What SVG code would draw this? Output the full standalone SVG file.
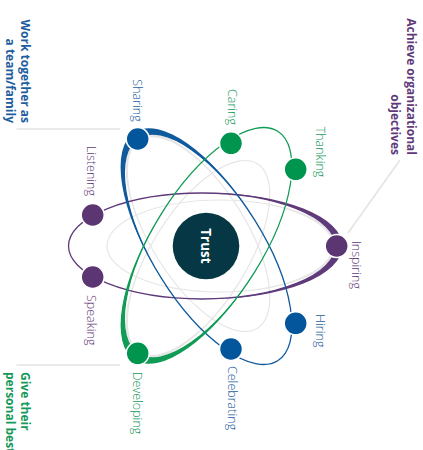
<svg xmlns="http://www.w3.org/2000/svg" width="423" height="450" viewBox="0 0 423 450">
  <defs>
    <style>
      .lbl{font-family:"Open Sans","Liberation Sans",sans-serif;font-size:12.5px;font-weight:300}
      .cat{font-family:"Open Sans","Liberation Sans",sans-serif;font-size:12px;font-weight:700}
      .blue{fill:#1d5d9e}
      .green{fill:#15995a}
      .purple{fill:#5f3a7a}
      .shadow{fill:none;stroke:#e6e6e6;stroke-width:1.2}
      .band{fill:#e6e6e6;fill-rule:evenodd}
      .orbit{fill:none;stroke-width:1.3}
      .node{stroke:#fff;stroke-width:1.5}
      .conn{fill:none;stroke:#e3e3e3;stroke-width:1.5}
    </style>
    <!-- tip-side clips in each orbit's local frame (tip along +x) -->
    <clipPath id="tipP"><rect x="3.5" y="-80" width="160" height="160"/></clipPath>
    <clipPath id="tipPg"><rect x="19.75" y="-80" width="160" height="160"/></clipPath>
  </defs>

  <!-- connectors from nodes to category captions -->
  <g id="connectors">
    <path class="conn" d="M16.5,129 H120"/>
    <path class="conn" d="M16.5,365 H120"/>
    <path class="conn" d="M400,160 L348,233"/>
  </g>

  <!-- orbit shadows -->
  <g id="shadows">
    <g transform="translate(202,246)">
      <ellipse class="shadow" cx="18" rx="113" ry="46"/>
      <path class="band" clip-path="url(#tipPg)" d="M134.5,0 A113,46 0 1 1 -91.5,0 A113,46 0 1 1 134.5,0 Z M131,0 A113,46 0 1 1 -95,0 A113,46 0 1 1 131,0 Z"/>
    </g>
    <g transform="translate(208.1,249.3) rotate(238)">
      <ellipse class="shadow" cx="18" rx="111" ry="47.5"/>
      <path class="band" clip-path="url(#tipPg)" d="M132.5,0 A111,47.5 0 1 1 -89.5,0 A111,47.5 0 1 1 132.5,0 Z M129,0 A111,47.5 0 1 1 -93,0 A111,47.5 0 1 1 129,0 Z"/>
    </g>
    <g transform="translate(208.1,242.7) rotate(122)">
      <ellipse class="shadow" cx="18" rx="111" ry="47.5"/>
      <path class="band" clip-path="url(#tipPg)" d="M132.5,0 A111,47.5 0 1 1 -89.5,0 A111,47.5 0 1 1 132.5,0 Z M129,0 A111,47.5 0 1 1 -93,0 A111,47.5 0 1 1 129,0 Z"/>
    </g>
  </g>

  <!-- coloured orbits -->
  <g id="orbit-purple" transform="translate(202,246)">
    <ellipse class="orbit" rx="133.5" ry="53" stroke="#5f3a7a"/>
    <path fill="#5f3a7a" fill-rule="evenodd" clip-path="url(#tipP)" d="M140.5,0 A133.5,53 0 1 1 -126.5,0 A133.5,53 0 1 1 140.5,0 Z M133.5,0 A133.5,53 0 1 1 -133.5,0 A133.5,53 0 1 1 133.5,0 Z"/>
  </g>
  <g id="orbit-blue" transform="translate(208.1,249.3) rotate(238)">
    <ellipse class="orbit" rx="131.4" ry="55" stroke="#0f5a9c"/>
    <path fill="#0f5a9c" fill-rule="evenodd" clip-path="url(#tipP)" d="M138.4,0 A131.4,55 0 1 1 -124.4,0 A131.4,55 0 1 1 138.4,0 Z M131.4,0 A131.4,55 0 1 1 -131.4,0 A131.4,55 0 1 1 131.4,0 Z"/>
  </g>
  <g id="orbit-green" transform="translate(208.1,242.7) rotate(122)">
    <ellipse class="orbit" rx="131.4" ry="55" stroke="#119c55"/>
    <path fill="#119c55" fill-rule="evenodd" clip-path="url(#tipP)" d="M138.4,0 A131.4,55 0 1 1 -124.4,0 A131.4,55 0 1 1 138.4,0 Z M131.4,0 A131.4,55 0 1 1 -131.4,0 A131.4,55 0 1 1 131.4,0 Z"/>
  </g>

  <!-- nucleus -->
  <g id="trust">
    <circle cx="206" cy="246" r="33.3" fill="#053844"/>
    <text transform="translate(201,246) rotate(90)" text-anchor="middle" font-family="'Open Sans','Liberation Sans',sans-serif" font-size="13.5" font-weight="700" fill="#fff">Trust</text>
  </g>

  <!-- nodes -->
  <g id="sharing">
    <circle class="node" cx="137.7" cy="139" r="11.5" fill="#03569b"/>
    <text class="lbl blue" transform="translate(132.8,121.7) rotate(90)" text-anchor="end">Sharing</text>
  </g>
  <g id="caring">
    <circle class="node" cx="231" cy="143.3" r="11.5" fill="#00954f"/>
    <text class="lbl green" transform="translate(227.8,125) rotate(90)" text-anchor="end">Caring</text>
  </g>
  <g id="thanking">
    <circle class="node" cx="295.7" cy="169.3" r="11.5" fill="#00954f"/>
    <text class="lbl green" transform="translate(316.2,152) rotate(90)" text-anchor="middle">Thanking</text>
  </g>
  <g id="listening">
    <circle class="node" cx="92.7" cy="215" r="11.5" fill="#5c3573"/>
    <text class="lbl purple" transform="translate(86.8,196) rotate(90)" text-anchor="end">Listening</text>
  </g>
  <g id="speaking">
    <circle class="node" cx="92.7" cy="277" r="11.5" fill="#5c3573"/>
    <text class="lbl purple" transform="translate(86.8,295) rotate(90)">Speaking</text>
  </g>
  <g id="inspiring">
    <circle class="node" cx="336.7" cy="246" r="11.5" fill="#5c3573"/>
    <text class="lbl purple" transform="translate(352,240.7) rotate(90)">Inspiring</text>
  </g>
  <g id="hiring">
    <circle class="node" cx="295.7" cy="323.3" r="11.5" fill="#03569b"/>
    <text class="lbl blue" transform="translate(316,314) rotate(90)">Hiring</text>
  </g>
  <g id="celebrating">
    <circle class="node" cx="231" cy="349" r="11.5" fill="#03569b"/>
    <text class="lbl blue" transform="translate(227.8,366) rotate(90)">Celebrating</text>
  </g>
  <g id="developing">
    <circle class="node" cx="137.7" cy="353.3" r="11.5" fill="#00954f"/>
    <text class="lbl green" transform="translate(132.8,371.7) rotate(90)">Developing</text>
  </g>

  <!-- category captions -->
  <g id="caption-team">
    <text class="cat blue" transform="translate(21,123) rotate(90)" text-anchor="end"><tspan x="0" y="0">Work together as</tspan><tspan x="0" y="15.5">a team/family</tspan></text>
  </g>
  <g id="caption-objectives">
    <text class="cat purple" transform="translate(407,155) rotate(90)" text-anchor="end"><tspan x="0" y="0">Achieve organizational</tspan><tspan x="0" y="16.5">objectives</tspan></text>
  </g>
  <g id="caption-best">
    <text class="cat green" transform="translate(21,372) rotate(90)"><tspan x="0" y="0">Give their</tspan><tspan x="0" y="15.5">personal best</tspan></text>
  </g>
</svg>
